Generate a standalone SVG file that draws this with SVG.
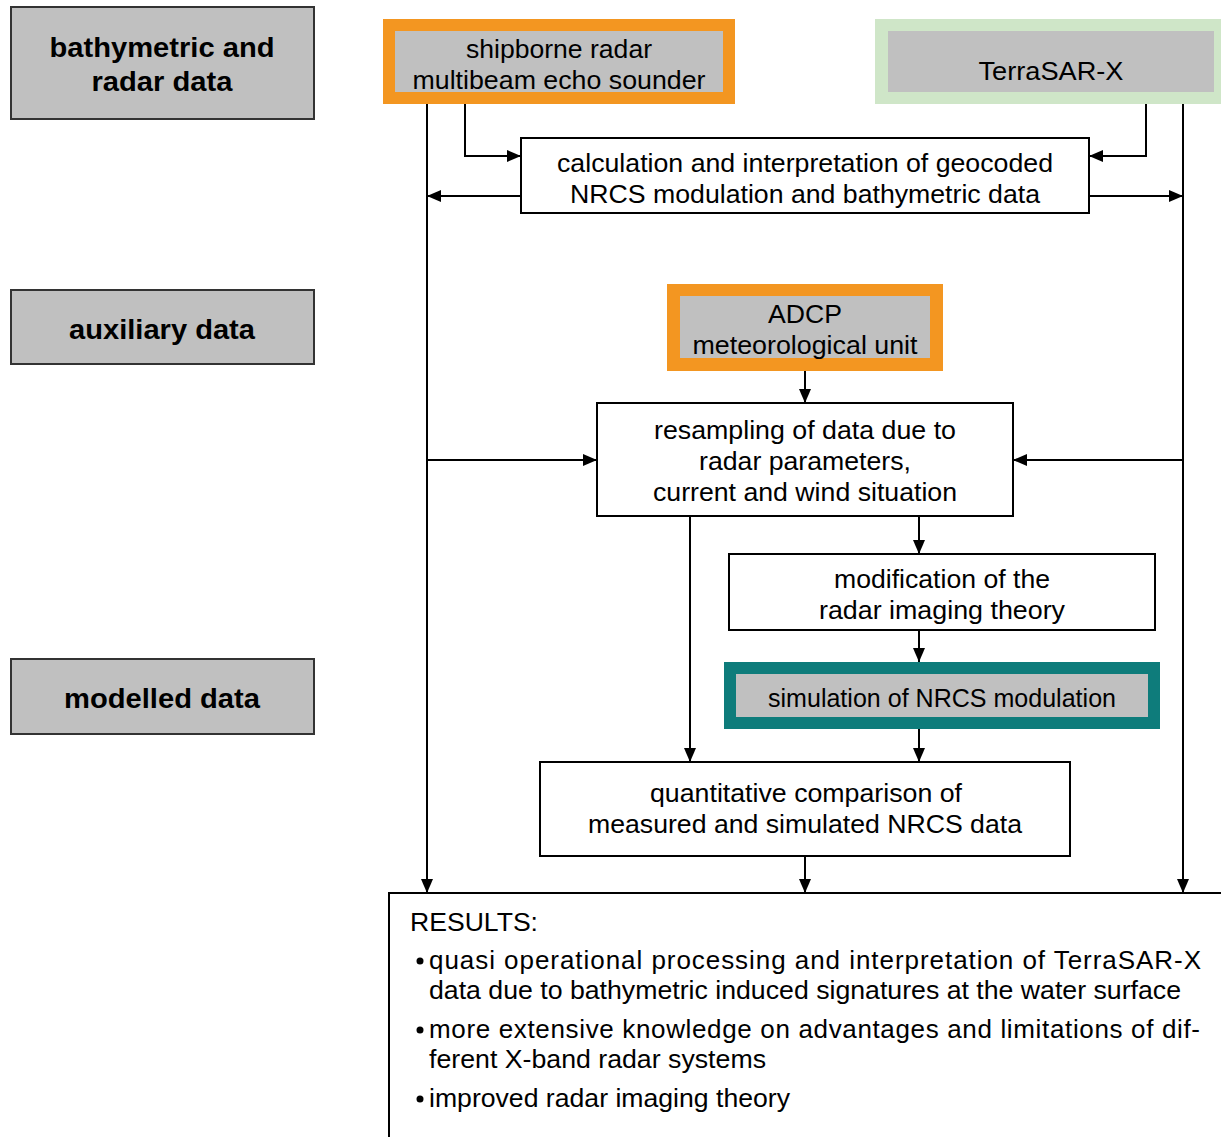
<svg xmlns="http://www.w3.org/2000/svg" width="1221" height="1137" viewBox="0 0 1221 1137">
<defs>
<marker id="ah" markerWidth="14" markerHeight="12" refX="14" refY="6" orient="auto" markerUnits="userSpaceOnUse">
<path d="M0,0 L14,6 L0,12 Z" fill="#000"/>
</marker>
<style>
.lbl{fill:#c0c0c0;stroke:#333;stroke-width:2}
.box{fill:#fff;stroke:#000;stroke-width:2}
.gray{fill:#c0c0c0}
.t{font-family:"Liberation Sans",Arial,sans-serif;font-size:26px;fill:#000;text-anchor:middle}
.b{font-family:"Liberation Sans",Arial,sans-serif;font-size:28px;font-weight:bold;fill:#000;text-anchor:middle}
.r{font-family:"Liberation Sans",Arial,sans-serif;font-size:26px;fill:#000}
.c{fill:none;stroke:#000;stroke-width:2}
</style>
</defs>
<rect width="1221" height="1137" fill="#fff"/>
<g id="label-bathymetric">
<rect class="lbl" x="11" y="7" width="303" height="112"/>
<text class="b" x="162" y="57" textLength="225" lengthAdjust="spacingAndGlyphs">bathymetric and</text>
<text class="b" x="162" y="91" textLength="141" lengthAdjust="spacingAndGlyphs">radar data</text>
</g>
<g id="label-auxiliary">
<rect class="lbl" x="11" y="290" width="303" height="74"/>
<text class="b" x="162" y="339" textLength="186" lengthAdjust="spacingAndGlyphs">auxiliary data</text>
</g>
<g id="label-modelled">
<rect class="lbl" x="11" y="659" width="303" height="75"/>
<text class="b" x="162" y="708" textLength="196" lengthAdjust="spacingAndGlyphs">modelled data</text>
</g>
<g id="shipborne">
<rect x="383" y="19" width="352" height="85" fill="#f39621"/>
<rect class="gray" x="395" y="31" width="328" height="61"/>
<text class="t" x="559" y="58" textLength="186" lengthAdjust="spacingAndGlyphs">shipborne radar</text>
<text class="t" x="559" y="89" textLength="293" lengthAdjust="spacingAndGlyphs">multibeam echo sounder</text>
</g>
<g id="terrasar">
<rect x="875" y="19" width="346" height="85" fill="#cfe6c8"/>
<rect class="gray" x="888" y="31" width="326" height="61"/>
<text class="t" x="1051" y="80" textLength="145" lengthAdjust="spacingAndGlyphs">TerraSAR-X</text>
</g>
<g id="calc">
<rect class="box" x="521" y="138" width="568" height="75"/>
<text class="t" x="805" y="172" textLength="496" lengthAdjust="spacingAndGlyphs">calculation and interpretation of geocoded</text>
<text class="t" x="805" y="203" textLength="470" lengthAdjust="spacingAndGlyphs">NRCS modulation and bathymetric data</text>
</g>
<g id="adcp">
<rect x="667" y="284" width="276" height="87" fill="#f39621"/>
<rect class="gray" x="680" y="296" width="250" height="62"/>
<text class="t" x="805" y="323" textLength="74" lengthAdjust="spacingAndGlyphs">ADCP</text>
<text class="t" x="805" y="354" textLength="225" lengthAdjust="spacingAndGlyphs">meteorological unit</text>
</g>
<g id="resampling">
<rect class="box" x="597" y="403" width="416" height="113"/>
<text class="t" x="805" y="439" textLength="302" lengthAdjust="spacingAndGlyphs">resampling of data due to</text>
<text class="t" x="805" y="470" textLength="212" lengthAdjust="spacingAndGlyphs">radar parameters,</text>
<text class="t" x="805" y="501" textLength="304" lengthAdjust="spacingAndGlyphs">current and wind situation</text>
</g>
<g id="modification">
<rect class="box" x="729" y="554" width="426" height="76"/>
<text class="t" x="942" y="588" textLength="216" lengthAdjust="spacingAndGlyphs">modification of the</text>
<text class="t" x="942" y="619" textLength="246" lengthAdjust="spacingAndGlyphs">radar imaging theory</text>
</g>
<g id="simulation">
<rect x="724" y="662" width="436" height="67" fill="#0e7c7b"/>
<rect class="gray" x="736" y="674" width="412" height="43"/>
<text class="t" x="942" y="707" textLength="348" lengthAdjust="spacingAndGlyphs">simulation of NRCS modulation</text>
</g>
<g id="quantitative">
<rect class="box" x="540" y="762" width="530" height="94"/>
<text class="t" x="806" y="802" textLength="312" lengthAdjust="spacingAndGlyphs">quantitative comparison of</text>
<text class="t" x="805" y="833" textLength="434" lengthAdjust="spacingAndGlyphs">measured and simulated NRCS data</text>
</g>
<g id="results">
<rect class="box" x="389" y="893" width="840" height="260"/>
<text class="r" x="410" y="931" textLength="128" lengthAdjust="spacingAndGlyphs">RESULTS:</text>
<circle cx="420" cy="961" r="3.5"/>
<text class="r" x="429" y="969" textLength="772" lengthAdjust="spacing">quasi operational processing and interpretation of TerraSAR-X</text>
<text class="r" x="429" y="999" textLength="752" lengthAdjust="spacingAndGlyphs">data due to bathymetric induced signatures at the water surface</text>
<circle cx="420" cy="1030" r="3.5"/>
<text class="r" x="429" y="1038" textLength="771" lengthAdjust="spacing">more extensive knowledge on advantages and limitations of dif-</text>
<text class="r" x="429" y="1068" textLength="337" lengthAdjust="spacingAndGlyphs">ferent X-band radar systems</text>
<circle cx="420" cy="1099" r="3.5"/>
<text class="r" x="429" y="1107" textLength="361" lengthAdjust="spacingAndGlyphs">improved radar imaging theory</text>
</g>
<g id="connectors">
<path class="c" d="M427,104 V893" marker-end="url(#ah)"/>
<path class="c" d="M465,104 V156 H521" marker-end="url(#ah)"/>
<path class="c" d="M1146,104 V156 H1089" marker-end="url(#ah)"/>
<path class="c" d="M1183,104 V893" marker-end="url(#ah)"/>
<path class="c" d="M521,196 H427" marker-end="url(#ah)"/>
<path class="c" d="M1089,196 H1183" marker-end="url(#ah)"/>
<path class="c" d="M805,371 V403" marker-end="url(#ah)"/>
<path class="c" d="M427,460 H597" marker-end="url(#ah)"/>
<path class="c" d="M1183,460 H1013" marker-end="url(#ah)"/>
<path class="c" d="M690,516 V762" marker-end="url(#ah)"/>
<path class="c" d="M919,516 V554" marker-end="url(#ah)"/>
<path class="c" d="M919,630 V662" marker-end="url(#ah)"/>
<path class="c" d="M919,729 V762" marker-end="url(#ah)"/>
<path class="c" d="M805,856 V893" marker-end="url(#ah)"/>
</g>
</svg>
